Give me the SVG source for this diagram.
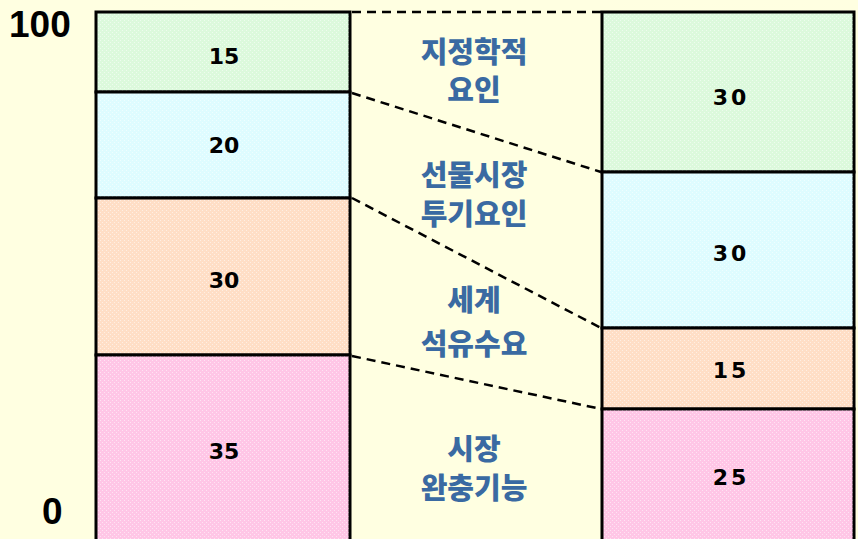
<svg xmlns="http://www.w3.org/2000/svg" width="858" height="539" viewBox="0 0 858 539">
<style>
.box{stroke:#000;stroke-width:3}
.g{fill:#DCF9DC}.c{fill:#DEFCFF}.o{fill:#FFDEC6}.p{fill:#FFC6E6}
.num{font-family:"DejaVu Sans","Liberation Sans",sans-serif;font-weight:bold;font-size:22px;fill:#000;text-anchor:middle}
.numr{letter-spacing:3px}
.axis{font-family:"Liberation Sans",Arial,sans-serif;font-weight:bold;font-size:37px;fill:#000}
.lab{font-family:"Noto Sans CJK KR","Noto Sans CJK SC",sans-serif;font-weight:900;font-size:29px;fill:#3A6AA2;text-anchor:middle}
.dash{stroke:#000;stroke-width:2.5;stroke-dasharray:9,6;fill:none}
</style>
<defs>
<pattern id="dots" width="4" height="4" patternUnits="userSpaceOnUse">
<rect x="0" y="0" width="1" height="1" fill="#fff" opacity="0.5"/>
<rect x="2" y="2" width="1" height="1" fill="#fff" opacity="0.5"/>
</pattern>
</defs>
<rect width="858" height="539" fill="#FFFFE1"/>
<g id="axis">
<text class="axis" x="9" y="37">100</text>
<text class="axis" x="42" y="524">0</text>
</g>
<g id="left-bar">
<g id="l15"><rect class="box g" x="96" y="12" width="254" height="80"/><rect x="97.5" y="13.5" width="251" height="77" fill="url(#dots)"/><text class="num" x="224" y="64">15</text></g>
<g id="l20"><rect class="box c" x="96" y="92" width="254" height="106"/><rect x="97.5" y="93.5" width="251" height="103" fill="url(#dots)"/><text class="num" x="224" y="153">20</text></g>
<g id="l30"><rect class="box o" x="96" y="198" width="254" height="157"/><rect x="97.5" y="199.5" width="251" height="154" fill="url(#dots)"/><text class="num" x="224" y="288">30</text></g>
<g id="l35"><rect class="box p" x="96" y="355" width="254" height="200"/><rect x="97.5" y="356.5" width="251" height="197" fill="url(#dots)"/><text class="num" x="224" y="459">35</text></g>
</g>
<g id="right-bar">
<g id="r30a"><rect class="box g" x="602" y="12" width="252" height="160"/><rect x="603.5" y="13.5" width="249" height="157" fill="url(#dots)"/><text class="num numr" x="731" y="105">30</text></g>
<g id="r30b"><rect class="box c" x="602" y="172" width="252" height="156"/><rect x="603.5" y="173.5" width="249" height="153" fill="url(#dots)"/><text class="num numr" x="731" y="261">30</text></g>
<g id="r15"><rect class="box o" x="602" y="328" width="252" height="81"/><rect x="603.5" y="329.5" width="249" height="78" fill="url(#dots)"/><text class="num numr" x="731" y="378">15</text></g>
<g id="r25"><rect class="box p" x="602" y="409" width="252" height="150"/><rect x="603.5" y="410.5" width="249" height="147" fill="url(#dots)"/><text class="num numr" x="731" y="485">25</text></g>
</g>
<g id="connectors">
<line class="dash" x1="352" y1="12" x2="601" y2="12"/>
<line class="dash" x1="352" y1="93" x2="601" y2="172"/>
<line class="dash" x1="352" y1="198" x2="601" y2="328"/>
<line class="dash" x1="352" y1="356" x2="601" y2="409"/>
</g>
<g id="labels">
<text class="lab" x="474" y="63">지정학적<tspan x="474" dy="38">요인</tspan></text>
<text class="lab" x="474" y="186">선물시장<tspan x="474" dy="39">투기요인</tspan></text>
<text class="lab" x="474" y="311">세계<tspan x="474" dy="44">석유수요</tspan></text>
<text class="lab" x="474" y="460">시장<tspan x="474" dy="39">완충기능</tspan></text>
</g>
</svg>
